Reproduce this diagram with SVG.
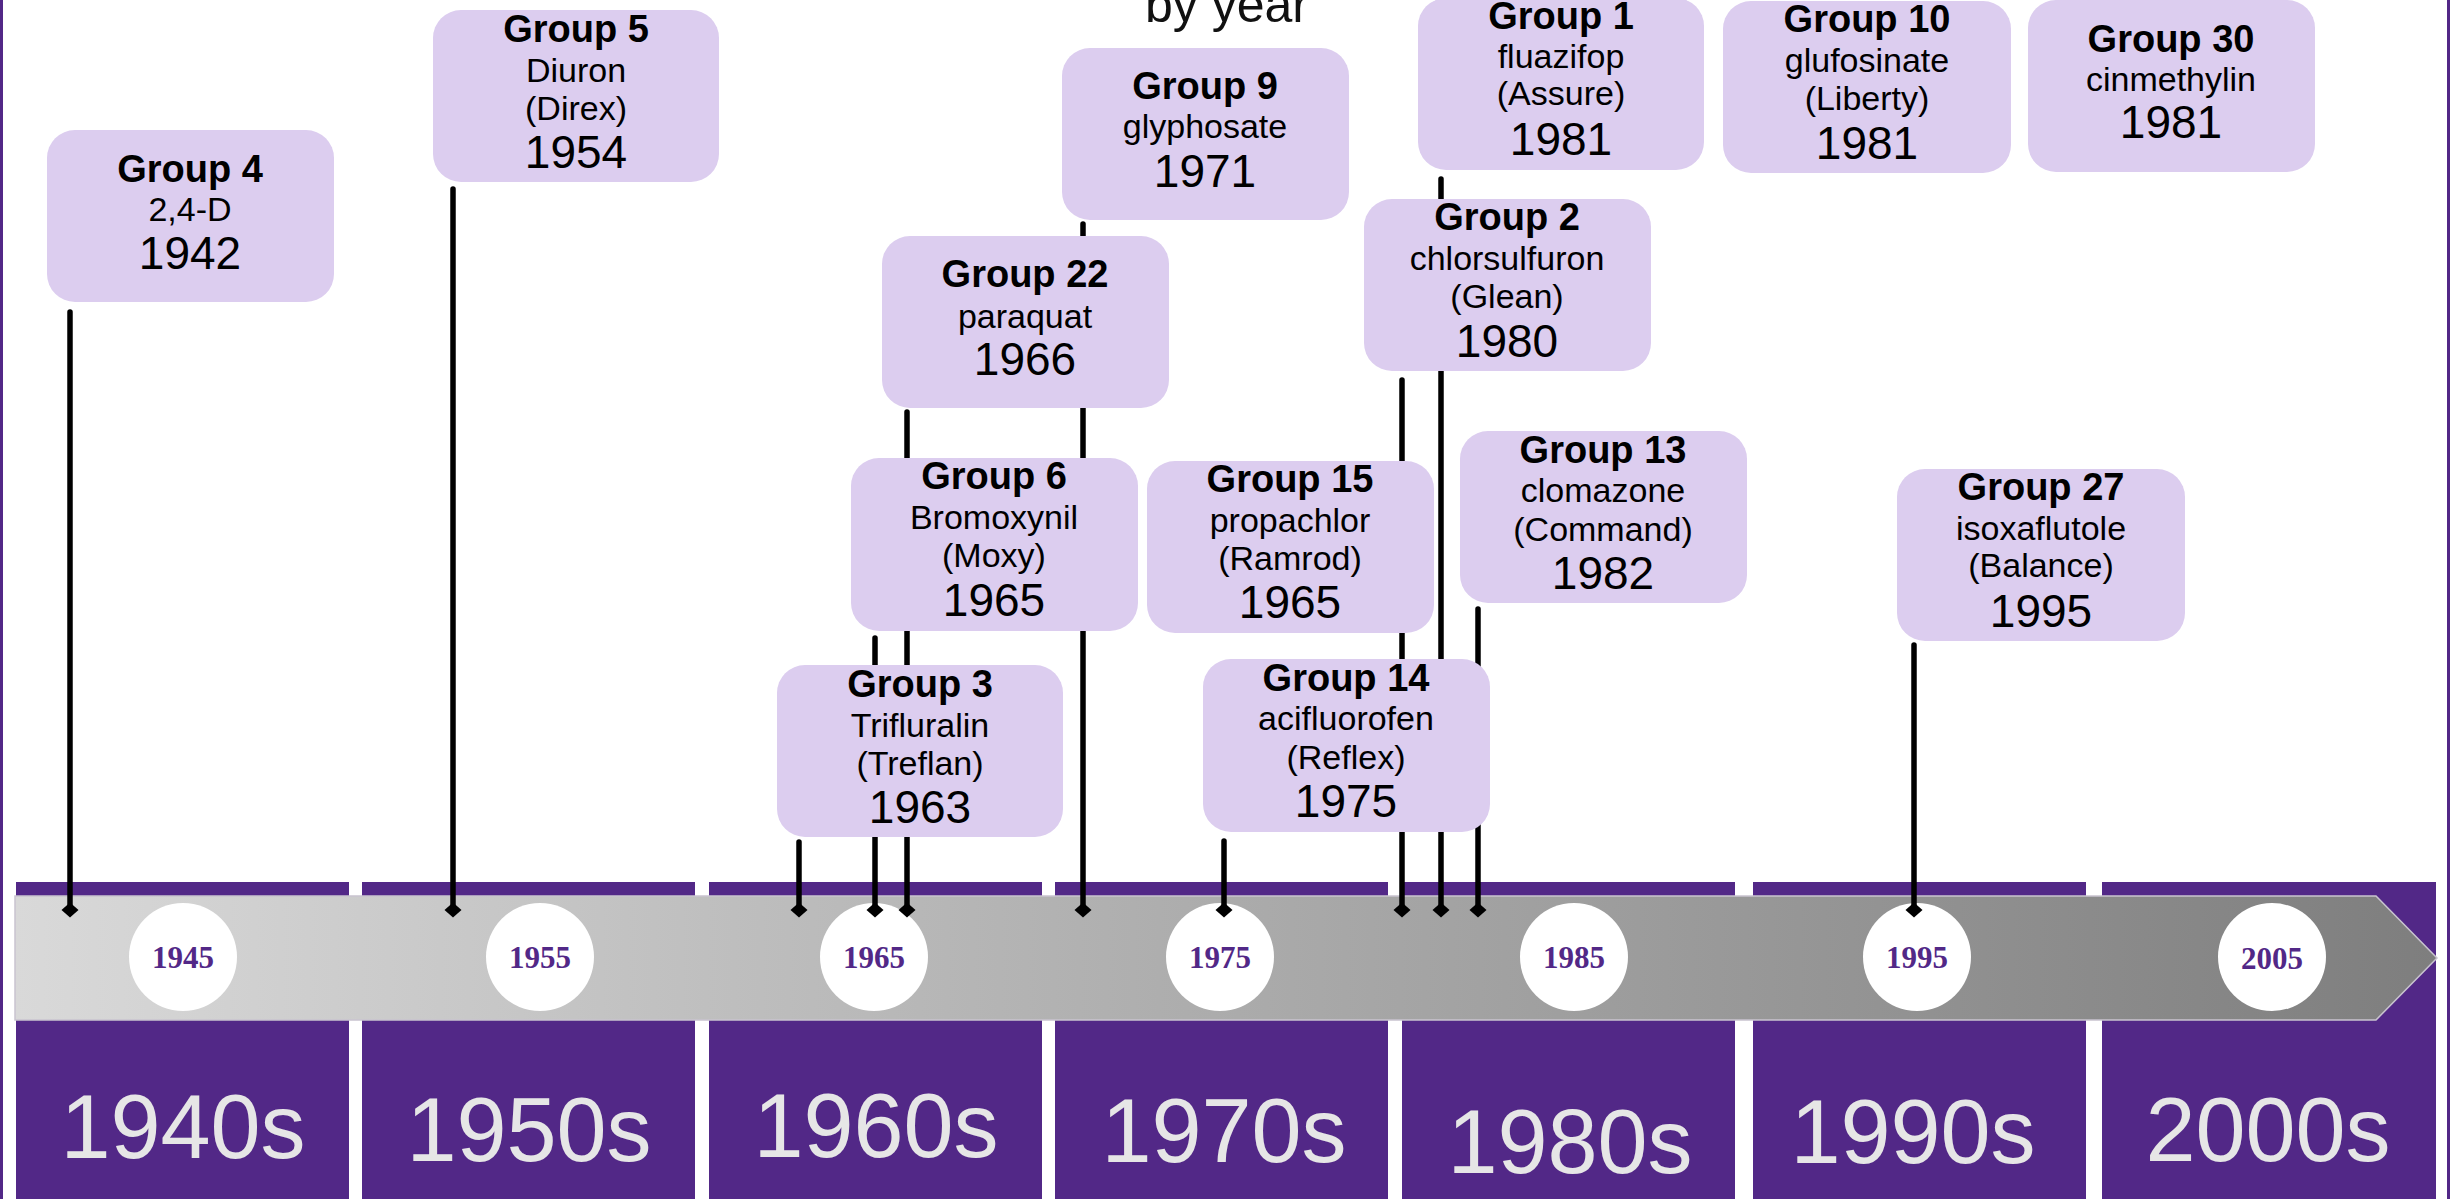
<svg xmlns="http://www.w3.org/2000/svg" width="2450" height="1199" viewBox="0 0 2450 1199">
<defs>
<linearGradient id="bandGrad" x1="15" y1="0" x2="2437" y2="0" gradientUnits="userSpaceOnUse">
<stop offset="0" stop-color="#d9d9d9"/>
<stop offset="1" stop-color="#7e7e7e"/>
</linearGradient>
<marker id="diamond" markerUnits="userSpaceOnUse" markerWidth="20" markerHeight="20" viewBox="-10 -10 20 20" refX="0" refY="0" orient="auto">
<path d="M -7.5 0 L 0 -8.5 L 7.5 0 L 0 8.5 Z" fill="#000"/>
</marker>
<style>
.col{fill:#522887}
.circ{fill:#ffffff}
.yr{font-family:"Liberation Serif",serif;font-weight:bold;font-size:31px;fill:#522887;text-anchor:middle}
.dec{font-family:"Liberation Sans",Arial,sans-serif;font-size:90px;fill:#e6e6e6;text-anchor:middle}
.box{fill:#dccdef}
.t{font-family:"Liberation Sans",Arial,sans-serif;font-weight:bold;font-size:38px;fill:#000;text-anchor:middle}
.s{font-family:"Liberation Sans",Arial,sans-serif;font-size:34px;fill:#000;text-anchor:middle}
.y{font-family:"Liberation Sans",Arial,sans-serif;font-size:46px;fill:#000;text-anchor:middle}
.conn line{stroke:#000;stroke-width:5.5;stroke-linecap:round;marker-end:url(#diamond)}
</style>
</defs>
<rect x="0" y="0" width="2450" height="1199" fill="#ffffff"/>
<rect x="1.5" y="-10" width="2447" height="1230" fill="none" stroke="#522887" stroke-width="3"/>

<text x="1227" y="22" font-family="Liberation Sans, Arial, sans-serif" font-size="50" fill="#111" text-anchor="middle">by year</text>

<g id="timeline">
<rect class="col" x="16" y="882" width="333" height="330"/>
<rect class="col" x="362" y="882" width="333" height="330"/>
<rect class="col" x="709" y="882" width="333" height="330"/>
<rect class="col" x="1055" y="882" width="333" height="330"/>
<rect class="col" x="1402" y="882" width="333" height="330"/>
<rect class="col" x="1753" y="882" width="333" height="330"/>
<rect class="col" x="2102" y="882" width="334" height="330"/>
<path d="M15 896 L2376 896 L2437 958 L2376 1020 L15 1020 Z" fill="url(#bandGrad)" stroke="#c9c4d0" stroke-width="1.5"/>
<circle class="circ" cx="183" cy="957" r="54"/>
<circle class="circ" cx="540" cy="957" r="54"/>
<circle class="circ" cx="874" cy="957" r="54"/>
<circle class="circ" cx="1220" cy="957" r="54"/>
<circle class="circ" cx="1574" cy="957" r="54"/>
<circle class="circ" cx="1917" cy="957" r="54"/>
<circle class="circ" cx="2272" cy="957" r="54"/>
<text class="yr" x="183" y="968">1945</text>
<text class="yr" x="540" y="968">1955</text>
<text class="yr" x="874" y="968">1965</text>
<text class="yr" x="1220" y="968">1975</text>
<text class="yr" x="1574" y="968">1985</text>
<text class="yr" x="1917" y="968">1995</text>
<text class="yr" x="2272" y="969">2005</text>
<text class="dec" x="183" y="1158">1940s</text>
<text class="dec" x="529" y="1161">1950s</text>
<text class="dec" x="876" y="1157">1960s</text>
<text class="dec" x="1224" y="1162">1970s</text>
<text class="dec" x="1570" y="1173">1980s</text>
<text class="dec" x="1913" y="1163">1990s</text>
<text class="dec" x="2268" y="1161">2000s</text>
</g>

<g id="connectors" class="conn">
<line x1="70" y1="312" x2="70" y2="910"/>
<line x1="453" y1="189" x2="453" y2="910"/>
<line x1="799" y1="842" x2="799" y2="910"/>
<line x1="875" y1="638" x2="875" y2="910"/>
<line x1="907" y1="412" x2="907" y2="910"/>
<line x1="1083" y1="224" x2="1083" y2="910"/>
<line x1="1224" y1="841" x2="1224" y2="910"/>
<line x1="1402" y1="380" x2="1402" y2="910"/>
<line x1="1441" y1="179" x2="1441" y2="910"/>
<line x1="1478" y1="609" x2="1478" y2="910"/>
<line x1="1914" y1="645" x2="1914" y2="910"/>
</g>

<g id="group4">
<rect class="box" x="47" y="130" width="287" height="172" rx="28"/>
<text class="t" x="190" y="182">Group 4</text>
<text class="s" x="190" y="221">2,4-D</text>
<text class="y" x="190" y="269">1942</text>
</g>
<g id="group5">
<rect class="box" x="433" y="10" width="286" height="172" rx="28"/>
<text class="t" x="576" y="42">Group 5</text>
<text class="s" x="576" y="82">Diuron</text>
<text class="s" x="576" y="120">(Direx)</text>
<text class="y" x="576" y="168">1954</text>
</g>
<g id="group9">
<rect class="box" x="1062" y="48" width="287" height="172" rx="28"/>
<text class="t" x="1205" y="99">Group 9</text>
<text class="s" x="1205" y="138">glyphosate</text>
<text class="y" x="1205" y="187">1971</text>
</g>
<g id="group22">
<rect class="box" x="882" y="236" width="287" height="172" rx="28"/>
<text class="t" x="1025" y="287">Group 22</text>
<text class="s" x="1025" y="328">paraquat</text>
<text class="y" x="1025" y="375">1966</text>
</g>
<g id="group1">
<rect class="box" x="1418" y="-2" width="286" height="172" rx="28"/>
<text class="t" x="1561" y="29">Group 1</text>
<text class="s" x="1561" y="68">fluazifop</text>
<text class="s" x="1561" y="105">(Assure)</text>
<text class="y" x="1561" y="155">1981</text>
</g>
<g id="group10">
<rect class="box" x="1723" y="1" width="288" height="172" rx="28"/>
<text class="t" x="1867" y="32">Group 10</text>
<text class="s" x="1867" y="72">glufosinate</text>
<text class="s" x="1867" y="110">(Liberty)</text>
<text class="y" x="1867" y="159">1981</text>
</g>
<g id="group30">
<rect class="box" x="2028" y="0" width="287" height="172" rx="28"/>
<text class="t" x="2171" y="52">Group 30</text>
<text class="s" x="2171" y="91">cinmethylin</text>
<text class="y" x="2171" y="138">1981</text>
</g>
<g id="group2">
<rect class="box" x="1364" y="199" width="287" height="172" rx="28"/>
<text class="t" x="1507" y="230">Group 2</text>
<text class="s" x="1507" y="270">chlorsulfuron</text>
<text class="s" x="1507" y="308">(Glean)</text>
<text class="y" x="1507" y="357">1980</text>
</g>
<g id="group6">
<rect class="box" x="851" y="458" width="287" height="173" rx="28"/>
<text class="t" x="994" y="489">Group 6</text>
<text class="s" x="994" y="529">Bromoxynil</text>
<text class="s" x="994" y="567">(Moxy)</text>
<text class="y" x="994" y="616">1965</text>
</g>
<g id="group15">
<rect class="box" x="1147" y="461" width="287" height="172" rx="28"/>
<text class="t" x="1290" y="492">Group 15</text>
<text class="s" x="1290" y="532">propachlor</text>
<text class="s" x="1290" y="570">(Ramrod)</text>
<text class="y" x="1290" y="618">1965</text>
</g>
<g id="group13">
<rect class="box" x="1460" y="431" width="287" height="172" rx="28"/>
<text class="t" x="1603" y="463">Group 13</text>
<text class="s" x="1603" y="502">clomazone</text>
<text class="s" x="1603" y="541">(Command)</text>
<text class="y" x="1603" y="589">1982</text>
</g>
<g id="group3">
<rect class="box" x="777" y="665" width="286" height="172" rx="28"/>
<text class="t" x="920" y="697">Group 3</text>
<text class="s" x="920" y="737">Trifluralin</text>
<text class="s" x="920" y="775">(Treflan)</text>
<text class="y" x="920" y="823">1963</text>
</g>
<g id="group14">
<rect class="box" x="1203" y="659" width="287" height="173" rx="28"/>
<text class="t" x="1346" y="691">Group 14</text>
<text class="s" x="1346" y="730">acifluorofen</text>
<text class="s" x="1346" y="769">(Reflex)</text>
<text class="y" x="1346" y="817">1975</text>
</g>
<g id="group27">
<rect class="box" x="1897" y="469" width="288" height="172" rx="28"/>
<text class="t" x="2041" y="500">Group 27</text>
<text class="s" x="2041" y="540">isoxaflutole</text>
<text class="s" x="2041" y="577">(Balance)</text>
<text class="y" x="2041" y="627">1995</text>
</g>
</svg>
